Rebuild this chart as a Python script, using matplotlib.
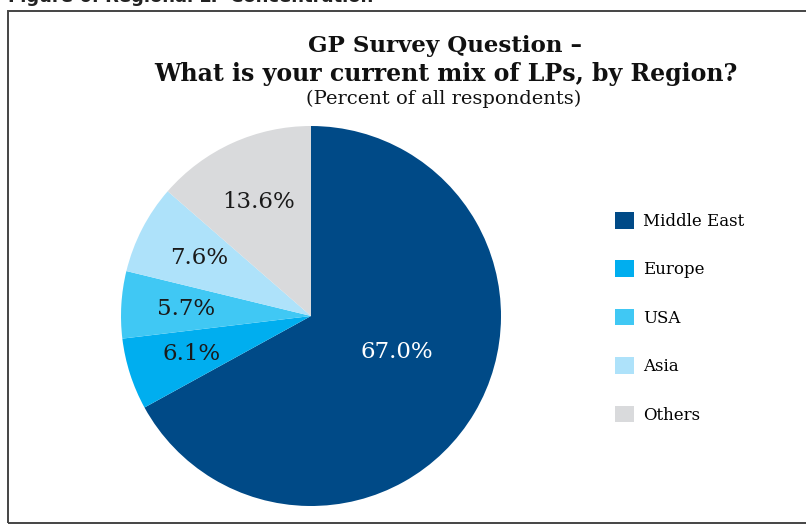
import numpy as np
import matplotlib
matplotlib.use("Agg")
from matplotlib import pyplot as plt
from matplotlib.patches import Rectangle

# data
regions = ["Middle East", "Europe", "USA", "Asia", "Others"]
shares = [67.0, 6.1, 5.7, 7.6, 13.6]
colors = ["#004a87", "#00aeef", "#40c8f4", "#aee2fa", "#d9dadc"]
label_colors = ["white", "#1a1a1a", "#1a1a1a", "#1a1a1a", "#1a1a1a"]

title_line1 = "GP Survey Question \u2013"
title_line2 = "What is your current mix of LPs, by Region?"
subtitle = "(Percent of all respondents)"
figure_caption = "Figure 6: Regional LP Concentration"

dpi = 100
fig = plt.figure(figsize=(806 / dpi, 525 / dpi), dpi=dpi)

# frame around the chart (right edge runs off the picture)
fig.add_artist(Rectangle((0.0105, 0.004), 1.2, 0.975, transform=fig.transFigure,
                         fill=False, edgecolor="#444444", linewidth=1.4))
fig.text(0.0105, 1 - 2 / 525, figure_caption, ha="left", va="baseline",
         fontsize=13, fontweight="bold", family="DejaVu Sans", color="#222222")

# titles
fig.text(0.552, 1 - 46 / 525, title_line1, ha="center", va="center",
         fontsize=16.5, fontweight="bold", family="DejaVu Serif", color="#111111")
fig.text(0.553, 1 - 74 / 525, title_line2, ha="center", va="center",
         fontsize=17, fontweight="bold", family="DejaVu Serif", color="#111111")
fig.text(0.551, 1 - 99 / 525, subtitle, ha="center", va="center",
         fontsize=14, family="DejaVu Serif", color="#111111")

# pie, centred at about (311, 316) px with radius 190 px
cx, cy, r = 311 / 806, 1 - 316 / 525, 190
ax = fig.add_axes([cx - r / 806, cy - r / 525, 2 * r / 806, 2 * r / 525])
wedges, texts, autotexts = ax.pie(shares, colors=colors, startangle=90, counterclock=False,
                                  autopct="%.1f%%", pctdistance=0.66,
                                  wedgeprops=dict(linewidth=0))
ax.set_xlim(-1, 1)
ax.set_ylim(-1, 1)
ax.set_aspect("equal")
ax.axis("off")

for t, c in zip(autotexts, label_colors):
    t.set_color(c)
    t.set_fontsize(16.5)
    t.set_family("DejaVu Serif")

# big slice label sits closer to the centre
w = wedges[0]
ang = np.deg2rad((w.theta1 + w.theta2) / 2 + 8)
autotexts[0].set_position((0.49 * np.cos(ang), 0.49 * np.sin(ang)))

fig.legend(wedges, regions, loc="upper left", bbox_to_anchor=(600 / 806, 1 - 197 / 525),
           frameon=False, prop=dict(family="DejaVu Serif", size=12),
           labelspacing=1.83, handlelength=1.15, handleheight=1.15, handletextpad=0.55)

fig.savefig("out.png", dpi=dpi)
